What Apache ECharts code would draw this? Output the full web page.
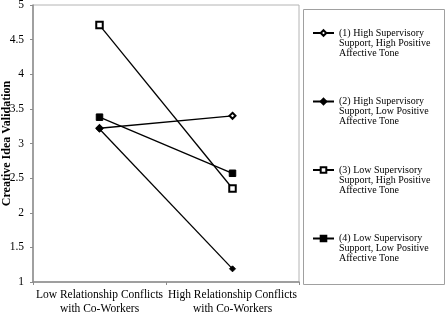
<!DOCTYPE html>
<html>
<head>
<meta charset="utf-8">
<script src="https://cdn.jsdelivr.net/npm/echarts@6/dist/echarts.min.js"></script>
<style>
html, body { margin: 0; padding: 0; background: #fff; }
#chart { width: 447px; height: 314px; }
</style>
</head>
<body>
<div id="chart"></div>
<script>
// conditions on the x axis
const categories = ['Low Relationship Conflicts\nwith Co-Workers', 'High Relationship Conflicts\nwith Co-Workers'];

// one line per group
const seriesNames = [
    '(1) High Supervisory\nSupport, High Positive\nAffective Tone',
    '(2) High Supervisory\nSupport, Low Positive\nAffective Tone',
    '(3) Low Supervisory\nSupport, High Positive\nAffective Tone',
    '(4) Low Supervisory\nSupport, Low Positive\nAffective Tone'
];
const highSupHighTone = [3.22, 3.40];
const highSupLowTone = [3.21, 1.19];
const lowSupHighTone = [4.71, 2.35];
const lowSupLowTone = [3.38, 2.57];

const yTicks = [1, 1.5, 2, 2.5, 3, 3.5, 4, 4.5, 5];

const symbols = ['emptyDiamond', 'diamond', 'emptyRect', 'rect'];
const symbolSizes = [6, 6, 6.5, 6.5];
const allValues = [highSupHighTone, highSupLowTone, lowSupHighTone, lowSupLowTone];

const font = 'Liberation Serif';
const myChart = echarts.init(document.getElementById('chart'));

const option = {
    animation: false,
    backgroundColor: '#fff',
    textStyle: { fontFamily: font, color: '#000' },
    grid: {
        left: 33,
        right: 148,
        top: 5,
        bottom: 32,
        outerBoundsMode: 'none',
        containLabel: false,
        show: true,
        borderColor: '#b4b4b4',
        borderWidth: 1
    },
    xAxis: {
        type: 'category',
        data: categories,
        boundaryGap: true,
        axisLine: { lineStyle: { color: '#8c8c8c', width: 1.5 } },
        axisTick: { show: true, length: 3, lineStyle: { color: '#8c8c8c' } },
        axisLabel: {
            interval: 0,
            margin: 6,
            fontFamily: font,
            fontSize: 11.5,
            lineHeight: 14,
            color: '#000'
        }
    },
    yAxis: {
        type: 'value',
        min: yTicks[0],
        max: yTicks[yTicks.length - 1],
        interval: 0.5,
        splitLine: { show: false },
        axisLine: { show: true, lineStyle: { color: '#8c8c8c', width: 1.5 } },
        axisTick: { show: true, length: 3, lineStyle: { color: '#8c8c8c' } },
        axisLabel: {
            margin: 9,
            fontFamily: font,
            fontSize: 11.5,
            color: '#000'
        },
        name: 'Creative Idea Validation',
        nameLocation: 'middle',
        nameGap: 20,
        nameMoveOverlap: false,
        nameTextStyle: {
            fontFamily: font,
            fontSize: 12,
            fontWeight: 'bold',
            color: '#000'
        }
    },
    legend: {
        orient: 'vertical',
        left: 312,
        top: 8,
        itemWidth: 21,
        itemHeight: 7,
        itemGap: 18.5,
        padding: 0,
        data: seriesNames,
        // two blank lines on top so the first text line sits beside the icon
        formatter: name => '\n\n' + name,
        textStyle: {
            fontFamily: font,
            fontSize: 10,
            lineHeight: 10,
            color: '#000'
        }
    },
    graphic: [{
        type: 'rect',
        shape: { x: 303.5, y: 9.5, width: 141, height: 275 },
        style: { fill: 'none', stroke: '#a0a0a0', lineWidth: 1 },
        silent: true
    }],
    series: seriesNames.map((name, i) => ({
        name: name,
        type: 'line',
        data: allValues[i],
        symbol: symbols[i],
        symbolSize: symbolSizes[i],
        showAllSymbol: true,
        color: '#000',
        lineStyle: { color: '#000', width: 1.3 },
        itemStyle: { color: '#000', borderColor: '#000', borderWidth: 1 }
    }))
};

myChart.setOption(option);
window.addEventListener('resize', () => {
    myChart.resize();
});
</script>
</body>
</html>
